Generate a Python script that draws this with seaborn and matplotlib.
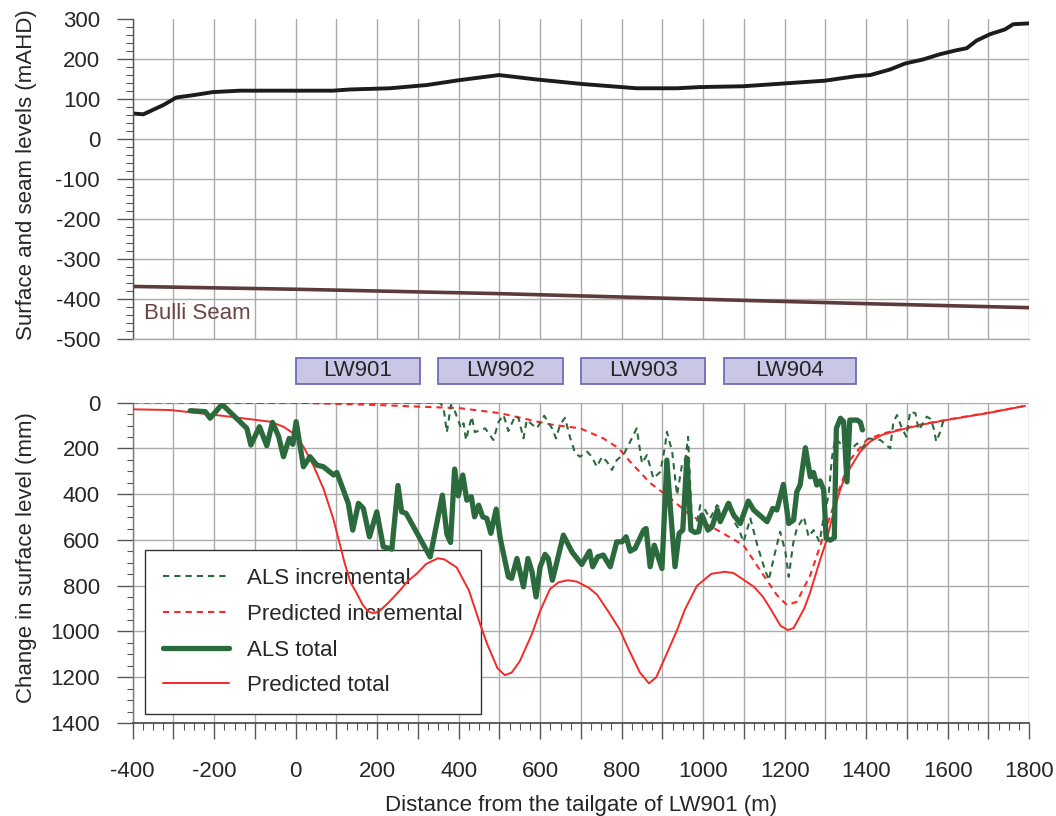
import matplotlib
matplotlib.use("Agg")
import matplotlib.pyplot as plt
from matplotlib.patches import Rectangle
from matplotlib.ticker import FixedLocator, MultipleLocator, FuncFormatter
import seaborn as sns

# ---------------- data ----------------
# Surface profile (mAHD) along the monitoring line
surf_x = [-400, -374, -325, -293, -250, -203, -137, -50, 10, 91, 133, 231, 321, 403, 499,
          591, 705, 837, 935, 992, 1098, 1198, 1299, 1377, 1410, 1459, 1496, 1540, 1581,
          1622, 1647, 1671, 1704, 1741, 1761, 1798]
surf_y = [64, 62, 85, 104, 110, 117.5, 121, 121, 121, 121, 124, 127, 135, 147.5, 160,
          149, 137.5, 127, 127, 130, 132, 139, 146, 157.5, 160, 174, 189, 199, 212,
          222, 227, 246, 262, 274, 287, 289]

# Bulli Seam floor level (mAHD)
seam_x = [-400, 0, 500, 1000, 1400, 1800]
seam_y = [-368, -375, -386, -400, -411, -421]

# Predicted total subsidence (mm)
pred_tot_x = [-400, -308, -181, -63, -30, -6, 19, 43, 68, 92, 109, 120, 134, 150, 165, 178,
              190, 205, 230, 256, 275, 298, 320, 349, 365, 395, 425, 452, 470, 495, 513,
              530, 550, 580, 600, 624, 645, 668, 690, 720, 740, 770, 796, 815, 845, 867,
              885, 910, 936, 955, 985, 1020, 1053, 1075, 1100, 1125, 1147, 1165, 1190,
              1208, 1222, 1248, 1262, 1287, 1303, 1320, 1336, 1350, 1368, 1385, 1410,
              1440, 1483, 1540, 1606, 1700, 1790]
pred_tot_y = [29, 32, 57, 83, 105, 134, 192, 273, 375, 506, 623, 700, 783, 834, 885, 912,
              921, 912, 870, 820, 780, 746, 705, 680, 685, 720, 820, 965, 1055, 1160, 1191,
              1180, 1130, 1010, 910, 815, 785, 776, 782, 810, 840, 920, 994, 1070, 1180, 1227,
              1200, 1100, 994, 905, 800, 748, 739, 745, 775, 805, 849, 900, 975,
              994, 985, 900, 833, 688, 601, 480, 383, 315, 265, 215, 170,
              140, 119, 95, 73, 45, 14]

# Predicted incremental subsidence (mm)
pred_inc_x = [-400, 0, 198, 403, 502, 624, 698, 755, 792, 821, 870, 919, 968, 1042, 1099,
              1148, 1181, 1206, 1230, 1263, 1296, 1329, 1360, 1401, 1440, 1483, 1540, 1606,
              1700, 1790]
pred_inc_y = [0, 0, 10, 24, 46, 95, 112, 156, 198, 258, 351, 417, 491, 564, 623,
              754, 841, 885, 870, 754, 579, 404, 251, 163, 135, 117, 93, 72,
              44, 14]

# ALS measured total subsidence (mm)
als_tot_x = [-259, -222, -210, -181, -120, -110, -89, -71, -57, -42, -30, -16, -7, 1, 19, 35,
             52, 68, 93, 101, 129, 140, 154, 166, 181, 199, 215, 236, 251, 260, 271, 330,
             360, 371, 380, 390, 399, 410, 420, 431, 439, 449, 459, 469, 479, 492, 502, 522,
             530, 543, 559, 570, 580, 590, 600, 612, 620, 630, 641, 657, 678, 702, 721, 729,
             741, 755, 762, 772, 788, 801, 811, 821, 833, 854, 860, 870, 880, 899, 911, 919,
             931, 941, 950, 960, 970, 980, 989, 997, 1012, 1022, 1035, 1042, 1062, 1075,
             1091, 1111, 1124, 1157, 1171, 1181, 1197, 1210, 1222, 1230, 1238, 1251, 1263,
             1271, 1279, 1287, 1296, 1302, 1312, 1322, 1327, 1337, 1345, 1353, 1360, 1378,
             1386, 1391]
als_tot_y = [35, 39, 68, 7, 112, 185, 105, 188, 86, 147, 236, 156, 182, 83, 280, 236,
             273, 280, 316, 305, 440, 557, 440, 462, 586, 477, 630, 640, 362, 477, 484, 674,
             404, 575, 611, 290, 407, 316, 426, 411, 499, 448, 499, 506, 571, 465, 593, 761,
             768, 681, 805, 681, 739, 849, 717, 663, 681, 776, 696, 579, 652, 707, 649, 717,
             674, 666, 688, 717, 608, 608, 586, 649, 637, 557, 550, 717, 623, 725, 251, 448,
             717, 571, 557, 243, 557, 567, 564, 491, 557, 542, 469, 520, 440, 491,
             528, 430, 469, 520, 462, 469, 357, 528, 513, 389, 360, 197, 324,
             305, 360, 342, 382, 593, 601, 590, 112, 68, 83, 346, 76, 76,
             86, 119]

# ALS measured incremental subsidence (mm)
als_inc_x = [-259, 355, 363, 371, 381, 391, 406, 412, 418, 432, 440, 465, 485, 498, 510, 522,
             539, 547, 559, 567, 592, 610, 629, 639, 649, 661, 674, 686, 698, 715, 727, 739,
             752, 764, 776, 788, 805, 821, 837, 850, 862, 878, 895, 907, 911, 924, 936, 948,
             957, 963, 972, 985, 993, 1005, 1017, 1034, 1050, 1066, 1076, 1087, 1099, 1116,
             1133, 1148, 1161, 1173, 1189, 1202, 1210, 1221, 1230, 1247, 1259, 1271, 1286,
             1296, 1308, 1316, 1324, 1341, 1361, 1378, 1390, 1406, 1435, 1459, 1467, 1476,
             1488, 1499, 1508, 1521, 1529, 1537, 1549, 1558, 1566, 1572, 1582, 1590]
als_inc_y = [0, 0, 25, 129, 10, 39, 112, 90, 163, 61, 129, 112, 163, 83, 54, 124,
             57, 68, 156, 76, 112, 57, 112, 156, 95, 66, 156, 221, 236, 214, 236, 280,
             236, 258, 294, 251, 226, 170, 112, 265, 229, 331, 302, 185, 127, 214, 404, 273,
             243, 149, 506, 520, 448, 469, 506, 448, 477, 436, 520, 550, 608, 506,
             623, 710, 776, 681, 564, 652, 761, 615, 550, 499, 586, 557, 608,
             499, 404, 243, 156, 185, 207, 178, 200, 156, 163, 200, 83, 54,
             112, 149, 39, 46, 119, 98, 61, 71, 112, 170, 127, 76]

# Longwall panels (start, end chainage in m)
panel_names = ["LW901", "LW902", "LW903", "LW904"]
panel_start = [0, 350, 700, 1050]
panel_end = [305, 655, 1005, 1375]

# ---------------- styling ----------------
sns.set_style("white")
plt.rcParams['font.family'] = ['Liberation Sans', 'DejaVu Sans']
plt.rcParams['axes.unicode_minus'] = False

FS = 16
GREEN = '#2b6a3d'
RED = '#f42a2a'
GRID = '#ababab'
TICK = '#555555'

fig = plt.figure(figsize=(10.56, 8.16), dpi=100)
ax1 = fig.add_axes([0.1257, 0.5842, 0.8488, 0.3925])
ax2 = fig.add_axes([0.1257, 0.1140, 0.8488, 0.3925])

# ---------------- top panel: levels ----------------
sns.lineplot(x=surf_x, y=surf_y, ax=ax1, color='#1c1c1c', linewidth=2.8,
             estimator=None, sort=False)
sns.lineplot(x=seam_x, y=seam_y, ax=ax1, color='#5e3a3a', linewidth=2.6,
             estimator=None, sort=False)
ax1.text(-372, -435, 'Bulli Seam', color='#6b4444', fontsize=FS, ha='left', va='center')

ax1.set_xlim(-400, 1800)
ax1.set_ylim(-500, 300)
ax1.xaxis.set_major_locator(MultipleLocator(100))
ax1.yaxis.set_major_locator(MultipleLocator(100))
ax1.yaxis.set_minor_locator(MultipleLocator(20))
ax1.yaxis.set_major_formatter(FuncFormatter(lambda v, p: f"{int(round(v))}"))
ax1.grid(True, which='major', color=GRID, linewidth=1.0)
for gl, t in zip(ax1.get_ygridlines(), ax1.get_yticks()):
    if t >= 300:
        gl.set_visible(False)
ax1.tick_params(axis='x', which='both', length=0, labelbottom=False, bottom=False)
ax1.tick_params(axis='y', which='major', left=True, length=11.5, width=1.0, color=TICK,
                pad=12, labelsize=FS, direction='out')
ax1.tick_params(axis='y', which='minor', left=True, length=5, width=0.8, color=TICK,
                direction='out')
for s in ['top', 'right']:
    ax1.spines[s].set_visible(False)
ax1.spines['left'].set_color(TICK)
ax1.spines['left'].set_linewidth(1.0)
ax1.spines['bottom'].set_color(GRID)
ax1.spines['bottom'].set_linewidth(1.0)
ax1.set_xlabel('')
ax1.set_ylabel('Surface and seam levels (mAHD)', fontsize=FS)
ax1.yaxis.set_label_coords(-0.107, 0.513)

# ---------------- bottom panel: subsidence ----------------
sns.lineplot(x=pred_inc_x, y=pred_inc_y, ax=ax2, color=RED, linewidth=1.5,
             linestyle=(0, (3.0, 2.4)), estimator=None, sort=False,
             label='Predicted incremental', zorder=3)
sns.lineplot(x=pred_tot_x, y=pred_tot_y, ax=ax2, color=RED, linewidth=1.4,
             estimator=None, sort=False, label='Predicted total', zorder=3)
sns.lineplot(x=als_inc_x, y=als_inc_y, ax=ax2, color=GREEN, linewidth=1.5,
             linestyle=(0, (3.0, 2.4)), estimator=None, sort=False,
             label='ALS incremental', zorder=4)
sns.lineplot(x=als_tot_x, y=als_tot_y, ax=ax2, color=GREEN, linewidth=3.8,
             estimator=None, sort=False, label='ALS total', zorder=5)
for ln in ax2.get_lines():
    ln.set_solid_joinstyle('round')

ax2.set_xlim(-400, 1800)
ax2.set_ylim(1400, 0)
xt = list(range(-400, 1801, 100))
ax2.xaxis.set_major_locator(FixedLocator(xt))
ax2.xaxis.set_major_formatter(FuncFormatter(
    lambda v, p: f"{int(round(v))}" if int(round(v)) % 200 == 0 else ""))
ax2.xaxis.set_minor_locator(MultipleLocator(25))
ax2.yaxis.set_major_locator(MultipleLocator(200))
ax2.yaxis.set_minor_locator(MultipleLocator(50))
ax2.yaxis.set_major_formatter(FuncFormatter(lambda v, p: f"{int(round(v))}"))
ax2.grid(True, which='major', color=GRID, linewidth=1.0)
ax2.tick_params(axis='x', which='major', bottom=True, length=11.5, width=1.0, color=TICK,
                pad=16, labelsize=FS, direction='out')
ax2.tick_params(axis='x', which='minor', bottom=True, length=5, width=0.8, color=TICK,
                direction='out')
ax2.tick_params(axis='y', which='major', left=True, length=11.5, width=1.0, color=TICK,
                pad=12, labelsize=FS, direction='out')
ax2.tick_params(axis='y', which='minor', left=True, length=4.5, width=0.8, color=TICK,
                direction='out')
for s in ['top', 'right']:
    ax2.spines[s].set_visible(False)
ax2.spines['left'].set_color('#777777')
ax2.spines['left'].set_linewidth(1.0)
ax2.spines['bottom'].set_color('#444444')
ax2.spines['bottom'].set_linewidth(1.2)
ax2.set_xlabel('Distance from the tailgate of LW901 (m)', fontsize=FS, labelpad=9)
ax2.set_ylabel('Change in surface level (mm)', fontsize=FS)
ax2.yaxis.set_label_coords(-0.107, 0.515)

# longwall panel markers above the subsidence plot
for name, s, e in zip(panel_names, panel_start, panel_end):
    ax2.add_patch(Rectangle((s, -196), e - s, 114, transform=ax2.transData,
                            clip_on=False, facecolor='#c9c6e6', edgecolor='#6d6db8',
                            linewidth=1.3, zorder=6))
    ax2.text((s + e) / 2, -139, name, fontsize=FS, ha='center', va='center',
             clip_on=False, zorder=7)

# legend in the fixed order; white box above the grid but beneath the data lines
handles, labels = ax2.get_legend_handles_labels()
order = ['ALS incremental', 'Predicted incremental', 'ALS total', 'Predicted total']
hmap = dict(zip(labels, handles))
leg = ax2.legend([hmap[k] for k in order], order, loc='lower left',
                 bbox_to_anchor=(0.0137, 0.028), borderaxespad=0, fontsize=FS,
                 frameon=True, fancybox=False, edgecolor='#333333', framealpha=1,
                 handlelength=3.0, handletextpad=0.8, labelspacing=0.66, borderpad=0.8)
leg.get_frame().set_linewidth(1.0)
leg.set_zorder(2)

fig.savefig('out.png', dpi=100)
